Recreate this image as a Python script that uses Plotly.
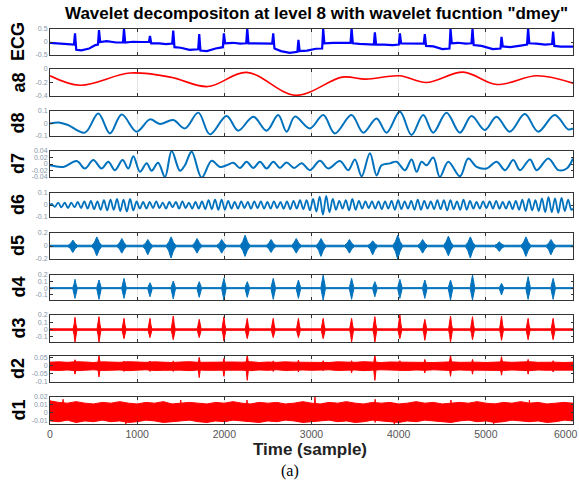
import plotly.graph_objects as go

# ---------------- data ----------------
beats = [287, 562, 849, 1147, 1414, 1712, 1995, 2263, 2561, 2850,
         3134, 3460, 3727, 4014, 4300, 4595, 4847, 5180, 5485, 5772]

# ECG
ecg_r = [0.33, 0.46, 0.50, 0.23, 0.44, 0.30, 0.33, 0.52, 0.33, 0.08,
         0.50, 0.52, 0.37, 0.33, 0.30, 0.50, 0.50, 0.20, 0.52, 0.40]
ecg_pre = [-0.10, -0.10, -0.02, 0.00, -0.06, -0.28, -0.20, -0.05, -0.06, -0.38,
           -0.25, -0.03, -0.10, -0.10, -0.06, -0.25, -0.05, -0.25, -0.10, -0.08]
ecg_post = [-0.30, 0.00, -0.02, -0.05, -0.20, -0.33, -0.05, -0.05, -0.25, -0.35,
            -0.05, -0.05, -0.10, -0.05, -0.15, -0.05, -0.12, -0.17, -0.05, -0.15]
ecg_mid_t = [0, 100, 200, 360, 450, 520, 650, 760, 950, 1050, 1250, 1330, 1500, 1600,
             1800, 1900, 2100, 2180, 2350, 2460, 2650, 2750, 2950, 3050, 3250, 3380,
             3550, 3650, 3830, 3930, 4100, 4200, 4400, 4500, 4680, 4770, 4950, 5080,
             5280, 5400, 5580, 5680, 5860, 6000]
ecg_mid_v = [-0.03, -0.06, -0.09, -0.32, -0.25, -0.12, 0.03, -0.02, 0.01, 0.0, -0.05, -0.08,
             -0.22, -0.30, -0.35, -0.25, -0.03, -0.06, -0.05, -0.06, -0.35, -0.42, -0.33,
             -0.26, -0.03, -0.03, -0.07, -0.10, -0.10, -0.12, -0.05, -0.07, -0.17, -0.27,
             -0.03, -0.06, -0.15, -0.27, -0.20, -0.14, -0.06, -0.10, -0.18, -0.18]

# a8 (approximation)
a8_t = [0, 347, 920, 1380, 1811, 2254, 2820, 3353, 3621, 4008, 4316, 4740, 5125, 5586, 6000]
a8_v = [-0.10, -0.24, -0.06, -0.12, -0.26, -0.05, -0.39, -0.12, -0.15, -0.10,
        -0.20, -0.046, -0.23, -0.10, -0.21]

# d8 extrema
d8_t = [0, 100, 200, 401, 554, 688, 822, 994, 1147, 1261, 1414, 1548, 1701, 1835, 2026,
        2159, 2332, 2485, 2618, 2714, 2810, 2982, 3135, 3268, 3459, 3593, 3746, 3861,
        4014, 4147, 4281, 4396, 4549, 4702, 4836, 4989, 5122, 5275, 5447, 5600, 5791,
        5944, 6000]
d8_v = [0.0, 0.008, -0.01, -0.073, 0.081, -0.079, 0.073, -0.065, 0.033, -0.004, 0.028,
        -0.039, 0.087, -0.087, 0.06, -0.057, 0.055, -0.057, 0.068, -0.065, 0.055, -0.039,
        0.068, -0.079, 0.068, -0.073, 0.041, -0.073, 0.095, -0.092, 0.068, -0.073, 0.087,
        -0.073, 0.06, -0.052, 0.055, -0.065, 0.076, -0.065, 0.068, -0.047, -0.039]

# d7 extrema
d7_t = [0, 153, 306, 401, 497, 592, 669, 745, 833, 898,
        956, 1032, 1109, 1166, 1240, 1319, 1396, 1491, 1548, 1625,
        1740, 1854, 1950, 2026, 2103, 2179, 2256, 2332, 2409, 2485,
        2562, 2638, 2714, 2800, 2887, 2982, 3097, 3192, 3326, 3422,
        3498, 3575, 3670, 3747, 3804, 3900, 3976, 4072, 4148, 4206,
        4263, 4320, 4397, 4473, 4569, 4703, 4798, 4894, 5009, 5124,
        5220, 5315, 5392, 5507, 5583, 5717, 5832, 5928, 6000]
d7_v = [-0.004, -0.009, 0.009, -0.014, 0.012, -0.014, 0.007, -0.019, 0.012, -0.014,
        0.024, -0.024, 0.002, -0.021, 0.004, -0.04, 0.04, -0.021, -0.004, 0.038,
        -0.042, 0.01, -0.009, -0.004, 0.004, -0.012, 0.007, -0.012, 0.007, -0.014,
        0.007, -0.012, 0.005, -0.012, 0.002, -0.019, 0.01, -0.014, 0.009, -0.019,
        0.014, -0.038, 0.033, -0.035, -0.004, 0.002, 0.007, -0.019, 0.014, -0.024,
        0.007, -0.004, 0.02, -0.04, 0.007, -0.038, 0.017, -0.009, -0.014, 0.007,
        -0.019, 0.012, -0.019, 0.014, -0.019, 0.017, -0.019, -0.014, 0.017]

# d6 extrema (one every half period of about 37.5 samples)
d6_half_period = 37.5
d6_v = [0.01, -0.015, 0.02, -0.02, 0.02, -0.025, 0.02, -0.02, 0.025, -0.025,
        0.03, -0.03, 0.035, -0.035, 0.03, -0.04, 0.04, -0.045, 0.045, -0.04,
        0.05, -0.05, 0.045, -0.055, 0.05, -0.045, 0.03, -0.03, 0.025, -0.03,
        0.025, -0.025, 0.03, -0.025, 0.02, -0.03, 0.025, -0.02, 0.025, -0.03,
        0.03, -0.025, 0.02, -0.03, 0.025, -0.03, 0.03, -0.035, 0.04, -0.035,
        0.045, -0.04, 0.045, -0.04, 0.035, -0.03, 0.025, -0.03, 0.03, -0.025,
        0.025, -0.03, 0.03, -0.025, 0.03, -0.03, 0.025, -0.03, 0.03, -0.025,
        0.025, -0.03, 0.03, -0.035, 0.035, -0.03, 0.04, -0.035, 0.04, -0.045,
        0.05, -0.055, 0.07, -0.08, 0.075, -0.06, 0.05, -0.04, 0.035, -0.03,
        0.04, -0.045, 0.05, -0.04, 0.035, -0.03, 0.03, -0.025, 0.03, -0.03,
        0.03, -0.035, 0.03, -0.03, 0.035, -0.04, 0.04, -0.035, 0.03, -0.03,
        0.035, -0.04, 0.045, -0.04, 0.035, -0.03, 0.03, -0.035, 0.04, -0.035,
        0.04, -0.045, 0.04, -0.035, 0.03, -0.04, 0.045, -0.04, 0.035, -0.03,
        0.025, -0.03, 0.03, -0.025, 0.03, -0.03, 0.035, -0.03, 0.025, -0.03,
        0.03, -0.035, 0.035, -0.04, 0.045, -0.05, 0.05, -0.045, 0.04, -0.05,
        0.055, -0.06, 0.065, -0.06, 0.055, -0.065, 0.06, -0.05, 0.045, -0.04]

# d5 / d4 / d3 bursts at each beat (upper and lower extent)
d5_up = [0.09, 0.14, 0.115, 0.10, 0.14, 0.115, 0.10, 0.165, 0.10, 0.115,
         0.115, 0.10, 0.08, 0.165, 0.10, 0.15, 0.14, 0.065, 0.14, 0.10]
d5_lo = [-0.10, -0.15, -0.11, -0.135, -0.185, -0.11, -0.11, -0.16, -0.10, -0.11,
         -0.16, -0.11, -0.135, -0.2, -0.11, -0.15, -0.185, -0.085, -0.16, -0.135]
d4_up = [0.134, 0.124, 0.149, 0.083, 0.109, 0.099, 0.149, 0.099, 0.149, 0.124,
         0.2, 0.149, 0.099, 0.134, 0.124, 0.124, 0.2, 0.073, 0.175, 0.149]
d4_lo = [-0.155, -0.17, -0.155, -0.13, -0.165, -0.14, -0.18, -0.14, -0.17, -0.155,
         -0.18, -0.17, -0.13, -0.155, -0.155, -0.18, -0.18, -0.104, -0.17, -0.17]
d3_up = [0.168, 0.177, 0.154, 0.154, 0.186, 0.14, 0.177, 0.154, 0.154, 0.154,
         0.154, 0.154, 0.177, 0.2, 0.14, 0.186, 0.177, 0.186, 0.154, 0.154]
d3_lo = [-0.17, -0.17, -0.124, -0.11, -0.138, -0.11, -0.156, -0.124, -0.11, -0.11,
         -0.124, -0.17, -0.17, -0.124, -0.147, -0.17, -0.138, -0.147, -0.138, -0.138]

# d2 / d1 noise bands on a 100-sample grid
band_t = list(range(0, 6001, 100))
d2_up = [0.022, 0.024, 0.021, 0.025, 0.023, 0.020, 0.024, 0.022, 0.021, 0.025,
         0.023, 0.021, 0.024, 0.022, 0.020, 0.023, 0.025, 0.021, 0.022, 0.024,
         0.021, 0.023, 0.022, 0.025, 0.020, 0.023, 0.021, 0.024, 0.022, 0.021,
         0.023, 0.022, 0.020, 0.024, 0.022, 0.021, 0.025, 0.022, 0.020, 0.023,
         0.022, 0.024, 0.021, 0.023, 0.020, 0.022, 0.024, 0.021, 0.023, 0.022,
         0.020, 0.023, 0.024, 0.021, 0.022, 0.025, 0.021, 0.023, 0.022, 0.020, 0.022]
d2_lo = [-0.027, -0.029, -0.026, -0.030, -0.027, -0.025, -0.029, -0.028, -0.026, -0.030,
         -0.027, -0.025, -0.029, -0.028, -0.026, -0.027, -0.030, -0.026, -0.028, -0.029,
         -0.025, -0.028, -0.027, -0.030, -0.026, -0.028, -0.025, -0.029, -0.027, -0.026,
         -0.028, -0.027, -0.025, -0.029, -0.027, -0.026, -0.030, -0.027, -0.025, -0.028,
         -0.027, -0.029, -0.026, -0.028, -0.025, -0.027, -0.029, -0.026, -0.028, -0.027,
         -0.025, -0.028, -0.029, -0.026, -0.027, -0.030, -0.026, -0.028, -0.027, -0.025, -0.027]
d2_spk_up = [0.037, 0.06, 0.029, 0.029, 0.03, 0.052, 0.045, 0.066, 0.03, 0.035,
             0.031, 0.031, 0.066, 0.031, 0.039, 0.066, 0.039, 0.056, 0.039, 0.031]
d2_spk_lo = [-0.052, -0.069, -0.035, -0.035, -0.035, -0.073, -0.065, -0.09, -0.035, -0.038,
             -0.031, -0.044, -0.09, -0.031, -0.044, -0.065, -0.052, -0.058, -0.052, -0.038]
d1_up = [0.015, 0.013, 0.012, 0.014, 0.012, 0.011, 0.013, 0.012, 0.014, 0.012,
         0.011, 0.013, 0.012, 0.014, 0.011, 0.012, 0.013, 0.012, 0.011, 0.013,
         0.012, 0.014, 0.012, 0.011, 0.013, 0.012, 0.013, 0.011, 0.012, 0.014,
         0.012, 0.011, 0.013, 0.012, 0.014, 0.012, 0.011, 0.013, 0.012, 0.013,
         0.011, 0.012, 0.014, 0.012, 0.013, 0.011, 0.012, 0.013, 0.012, 0.014,
         0.012, 0.011, 0.013, 0.012, 0.014, 0.012, 0.013, 0.011, 0.012, 0.013, 0.012]
d1_lo = [-0.011, -0.012, -0.010, -0.013, -0.011, -0.012, -0.010, -0.012, -0.011, -0.013,
         -0.012, -0.010, -0.011, -0.013, -0.012, -0.011, -0.010, -0.012, -0.013, -0.011,
         -0.012, -0.010, -0.011, -0.012, -0.013, -0.011, -0.012, -0.010, -0.011, -0.013,
         -0.012, -0.011, -0.010, -0.012, -0.011, -0.013, -0.012, -0.010, -0.011, -0.012,
         -0.013, -0.011, -0.012, -0.010, -0.011, -0.012, -0.013, -0.011, -0.010, -0.012,
         -0.011, -0.013, -0.012, -0.010, -0.011, -0.012, -0.011, -0.013, -0.012, -0.010, -0.011]
d1_spk_t = [150, 870, 1500, 2260, 3040, 3730, 3950, 4600, 5090, 5500]
d1_spk_up = [0.017, 0.012, 0.016, 0.016, 0.02, 0.017, 0.012, 0.016, 0.012, 0.016]
d1_spk_lo = [-0.011, -0.0155, -0.011, -0.012, -0.012, -0.013, -0.0155, -0.012, -0.0155, -0.012]

x_ticks = [0, 1000, 2000, 3000, 4000, 5000, 6000]
panel_names = ["ECG", "a8", "d8", "d7", "d6", "d5", "d4", "d3", "d2", "d1"]
y_ranges = [[-0.5, 0.5], [-0.4, 0.0], [-0.1, 0.1], [-0.04, 0.04], [-0.1, 0.1],
            [-0.2, 0.2], [-0.18, 0.2], [-0.17, 0.2], [-0.1, 0.06], [-0.015, 0.02]]
y_ticks = [[0.5, 0, -0.5], [0, -0.2, -0.4], [0.1, 0, -0.1], [0.04, 0.02, 0, -0.02, -0.04],
           [0.1, 0, -0.1], [0.2, 0, -0.2], [0.2, 0.1, 0, -0.1], [0.2, 0.1, 0, -0.1],
           [0.05, 0, -0.05, -0.1], [0.02, 0.01, 0, -0.01]]

# ---------------- styling / layout ----------------
BLUE = "#0000ff"
MBLUE = "#0072bd"
RED = "#ff0000"
FONT = "Liberation Sans, Arial"
W, H = 579, 486
L, R, T, B = 50, 6, 29, 62
panel_top = [29, 69, 111, 151, 193, 233, 275, 315, 356, 397]
panel_bot = [55, 96, 136, 177, 217, 259, 300, 342, 382, 424]
PH = H - T - B
PW = W - L - R


def dom(i):
    return [(H - B - panel_bot[i]) / PH, (H - B - panel_top[i]) / PH]


def ax(i):
    return ("x" if i == 0 else "x%d" % (i + 1)), ("y" if i == 0 else "y%d" % (i + 1))


fig = go.Figure()

# ECG trace
pts = list(zip(ecg_mid_t, ecg_mid_v))
for t, pre, r, post in zip(beats, ecg_pre, ecg_r, ecg_post):
    pts += [(t - 12, pre), (t, r), (t + 14, post)]
pts.sort()
xa, ya = ax(0)
fig.add_trace(go.Scatter(x=[p[0] for p in pts], y=[p[1] for p in pts], mode="lines",
                         line=dict(color=BLUE, width=2.2), xaxis=xa, yaxis=ya))

# a8
xa, ya = ax(1)
fig.add_trace(go.Scatter(x=a8_t, y=a8_v, mode="lines",
                         line=dict(color=RED, width=1.6, shape="spline", smoothing=1.0),
                         xaxis=xa, yaxis=ya))
# d8
xa, ya = ax(2)
fig.add_trace(go.Scatter(x=d8_t, y=d8_v, mode="lines",
                         line=dict(color=MBLUE, width=2, shape="spline", smoothing=1.0),
                         xaxis=xa, yaxis=ya))
# d7
xa, ya = ax(3)
fig.add_trace(go.Scatter(x=d7_t, y=d7_v, mode="lines",
                         line=dict(color=MBLUE, width=2, shape="spline", smoothing=1.0),
                         xaxis=xa, yaxis=ya))
# d6
d6_t = [d6_half_period * (k + 0.5) for k in range(len(d6_v))]
xa, ya = ax(4)
fig.add_trace(go.Scatter(x=[0] + d6_t + [6000], y=[0] + d6_v + [-0.03], mode="lines",
                         line=dict(color=MBLUE, width=1.8, shape="spline", smoothing=1.0),
                         xaxis=xa, yaxis=ya))

shape_off = [-1, -0.5, -0.15, 0, 0.15, 0.5, 1]
shape_frac = [0, 0.4, 0.85, 1, 0.85, 0.4, 0]


def burst_band(ups, los, floor, half_w, shift=0):
    ux, uy, lx, ly = [0], [floor], [0], [-floor]
    for t, a, b in zip(beats, ups, los):
        c = t + shift
        for o, f in zip(shape_off, shape_frac):
            ux.append(c + o * half_w)
            uy.append(max(floor, a * f))
            lx.append(c + o * half_w)
            ly.append(min(-floor, b * f))
    ux.append(6000); uy.append(floor); lx.append(6000); ly.append(-floor)
    return ux + lx[::-1] + [ux[0]], uy + ly[::-1] + [uy[0]]


for i, ups, los, floor, hw, sh, col in [
        (5, d5_up, d5_lo, 0.012, 55, -25, MBLUE),
        (6, d4_up, d4_lo, 0.008, 26, 0, MBLUE),
        (7, d3_up, d3_lo, 0.01, 22, 0, RED)]:
    bx, by = burst_band(ups, los, floor, hw, sh)
    xa, ya = ax(i)
    fig.add_trace(go.Scatter(x=bx, y=by, mode="lines", fill="toself", fillcolor=col,
                             line=dict(color=col, width=1), xaxis=xa, yaxis=ya))


def spikes(ts, ups, los, hw):
    xs, ys = [], []
    for t, a, b in zip(ts, ups, los):
        xs += [t - hw, t, t + hw, t, t - hw, None]
        ys += [0, a, 0, b, 0, None]
    return xs, ys


for i, up, lo, st, su, sl, hw in [
        (8, d2_up, d2_lo, beats, d2_spk_up, d2_spk_lo, 18),
        (9, d1_up, d1_lo, d1_spk_t, d1_spk_up, d1_spk_lo, 12)]:
    xa, ya = ax(i)
    fig.add_trace(go.Scatter(x=band_t + band_t[::-1], y=up + lo[::-1], mode="lines",
                             fill="toself", fillcolor=RED, line=dict(color=RED, width=1),
                             xaxis=xa, yaxis=ya))
    sx, sy = spikes(st, su, sl, hw)
    fig.add_trace(go.Scatter(x=sx, y=sy, mode="lines", fill="toself", fillcolor=RED,
                             line=dict(color=RED, width=1), xaxis=xa, yaxis=ya))

layout = dict(width=W, height=H, margin=dict(l=L, r=R, t=T, b=B),
              paper_bgcolor="white", plot_bgcolor="white", showlegend=False)
annotations = []
for i in range(10):
    xkey = "xaxis" if i == 0 else "xaxis%d" % (i + 1)
    ykey = "yaxis" if i == 0 else "yaxis%d" % (i + 1)
    xa, ya = ax(i)
    layout[xkey] = dict(domain=[0, 1], anchor=ya, range=[0, 6000], tickvals=x_ticks,
                        ticktext=[str(v) for v in x_ticks[:-1]] + [""],
                        showgrid=True, gridcolor="#e4e4e4", gridwidth=1,
                        ticks="inside", ticklen=3, tickcolor="#333",
                        showline=True, linecolor="#333", linewidth=1, mirror="ticks",
                        zeroline=False, showticklabels=(i == 9),
                        tickfont=dict(family=FONT, size=10.5, color="#555"))
    if i:
        layout[xkey]["matches"] = "x"
    layout[ykey] = dict(domain=dom(i), anchor=xa, range=y_ranges[i], tickvals=y_ticks[i],
                        ticktext=["%g" % v for v in y_ticks[i]],
                        ticks="inside", ticklen=2.5, tickcolor="#333",
                        showline=True, linecolor="#333", linewidth=1, mirror="ticks",
                        zeroline=False, showgrid=False,
                        tickfont=dict(family=FONT, size=7, color="#8595a8"))
    d = dom(i)
    annotations.append(dict(text="<b>%s</b>" % panel_names[i], xref="paper", yref="paper",
                            x=(18 - L) / PW, y=(d[0] + d[1]) / 2, textangle=-90,
                            showarrow=False, xanchor="center", yanchor="middle",
                            font=dict(family=FONT, size=18, color="black")))


def px_x(px):
    return (px - L) / PW


def px_y(py):
    return (H - B - py) / PH


annotations.append(dict(text='<b>Wavelet decompositon at level 8 with wavelet fucntion "dmey"</b>',
                        xref="paper", yref="paper", x=px_x(316), y=px_y(13), showarrow=False,
                        xanchor="center", yanchor="middle",
                        font=dict(family=FONT, size=17, color="black")))
annotations.append(dict(text="6000", xref="paper", yref="paper", x=px_x(566), y=px_y(434),
                        showarrow=False, xanchor="center", yanchor="middle",
                        font=dict(family=FONT, size=10.5, color="#555")))
annotations.append(dict(text="<b>Time (sample)</b>", xref="paper", yref="paper",
                        x=px_x(310), y=px_y(450), showarrow=False, xanchor="center",
                        yanchor="middle",
                        font=dict(family=FONT, size=17, color="#222")))
annotations.append(dict(text="(a)", xref="paper", yref="paper",
                        x=px_x(290), y=px_y(471), showarrow=False, xanchor="center",
                        yanchor="middle",
                        font=dict(family="Liberation Serif, Times New Roman", size=16, color="black")))
layout["annotations"] = annotations
fig.update_layout(**layout)
fig.write_html("out.html")
